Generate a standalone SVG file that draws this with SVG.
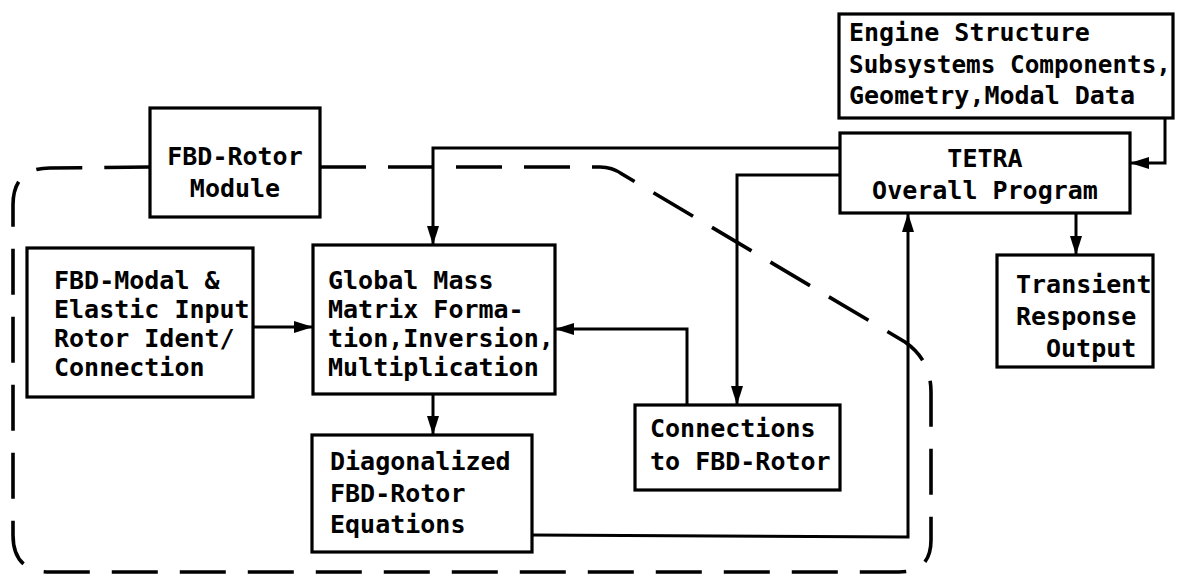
<svg xmlns="http://www.w3.org/2000/svg" width="1199" height="579" viewBox="0 0 1199 579">
  <defs>
    <marker id="arrow" markerUnits="userSpaceOnUse" markerWidth="20" markerHeight="14" refX="19" refY="7" orient="auto">
      <path d="M0,1 L19,7 L0,13 Z" fill="#000"/>
    </marker>
  </defs>
  <style>
    .box { fill: #fff; stroke: #000; stroke-width: 3.2; }
    .lbl { font-family: "DejaVu Sans Mono", "Liberation Mono", monospace; font-size: 25px; font-weight: bold; fill: #000; }
    .mid { text-anchor: middle; }
    .wire { fill: none; stroke: #000; stroke-width: 3; }
    .arr { marker-end: url(#arrow); }
    .bound { fill: none; stroke: #000; stroke-width: 3.6; stroke-dasharray: 46 22; stroke-linecap: butt; }
  </style>
  <rect width="1199" height="579" fill="#fff"/>

  <!-- module boundary (dashed) -->
  <g id="module-boundary">
    <path class="bound" d="M320,167 L600,167 Q612,167 622,174 L905,342 Q931,360 931,392 L931,540 Q931,572 899,572 L50,572 Q13,572 13,535 L13,205 Q13,168 50,168 L150,167"/>
  </g>

  <!-- connectors -->
  <g id="connectors">
    <path class="wire arr" d="M253,327 L313,327"/>
    <path class="wire arr" d="M840,148 L433,148 L433,245"/>
    <path class="wire arr" d="M840,175 L737,175 L737,405"/>
    <path class="wire arr" d="M687,405 L687,329 L555,329"/>
    <path class="wire arr" d="M433,394 L433,435"/>
    <path class="wire arr" d="M532,535 L908,537 L908,213"/>
    <path class="wire arr" d="M1165,118 L1165,163 L1130,163"/>
    <path class="wire arr" d="M1076,213 L1076,255"/>
  </g>

  <g id="fbd-rotor-module">
    <rect class="box" x="150" y="108" width="170" height="109"/>
    <text class="lbl mid" x="235" y="165">FBD-Rotor</text>
    <text class="lbl mid" x="235" y="197">Module</text>
  </g>

  <g id="fbd-modal-input">
    <rect class="box" x="27" y="248" width="226" height="149"/>
    <text class="lbl" x="54" y="289">FBD-Modal &amp;</text>
    <text class="lbl" x="54" y="318">Elastic Input</text>
    <text class="lbl" x="54" y="347">Rotor Ident/</text>
    <text class="lbl" x="54" y="376">Connection</text>
  </g>

  <g id="global-mass-matrix">
    <rect class="box" x="313" y="245" width="242" height="149"/>
    <text class="lbl" x="328" y="289">Global Mass</text>
    <text class="lbl" x="328" y="318">Matrix Forma-</text>
    <text class="lbl" x="328" y="347">tion,Inversion,</text>
    <text class="lbl" x="328" y="376">Multiplication</text>
  </g>

  <g id="diagonalized-equations">
    <rect class="box" x="312" y="435" width="220" height="117"/>
    <text class="lbl" x="330" y="470">Diagonalized</text>
    <text class="lbl" x="330" y="502">FBD-Rotor</text>
    <text class="lbl" x="330" y="533">Equations</text>
  </g>

  <g id="connections-to-rotor">
    <rect class="box" x="635" y="405" width="205" height="85"/>
    <text class="lbl" x="650" y="437">Connections</text>
    <text class="lbl" x="650" y="470">to FBD-Rotor</text>
  </g>

  <g id="tetra-program">
    <rect class="box" x="840" y="133" width="290" height="80"/>
    <text class="lbl mid" x="985" y="167">TETRA</text>
    <text class="lbl mid" x="985" y="199">Overall Program</text>
  </g>

  <g id="engine-structure-data">
    <rect class="box" x="839" y="14" width="334" height="104"/>
    <text class="lbl" x="849" y="41">Engine Structure</text>
    <text class="lbl" x="849" y="73" textLength="322" lengthAdjust="spacingAndGlyphs">Subsystems Components,</text>
    <text class="lbl" x="849" y="104">Geometry,Modal Data</text>
  </g>

  <g id="transient-output">
    <rect class="box" x="997" y="255" width="156" height="112"/>
    <text class="lbl" x="1016" y="293">Transient</text>
    <text class="lbl" x="1016" y="325">Response</text>
    <text class="lbl" x="1046" y="357">Output</text>
  </g>
</svg>
